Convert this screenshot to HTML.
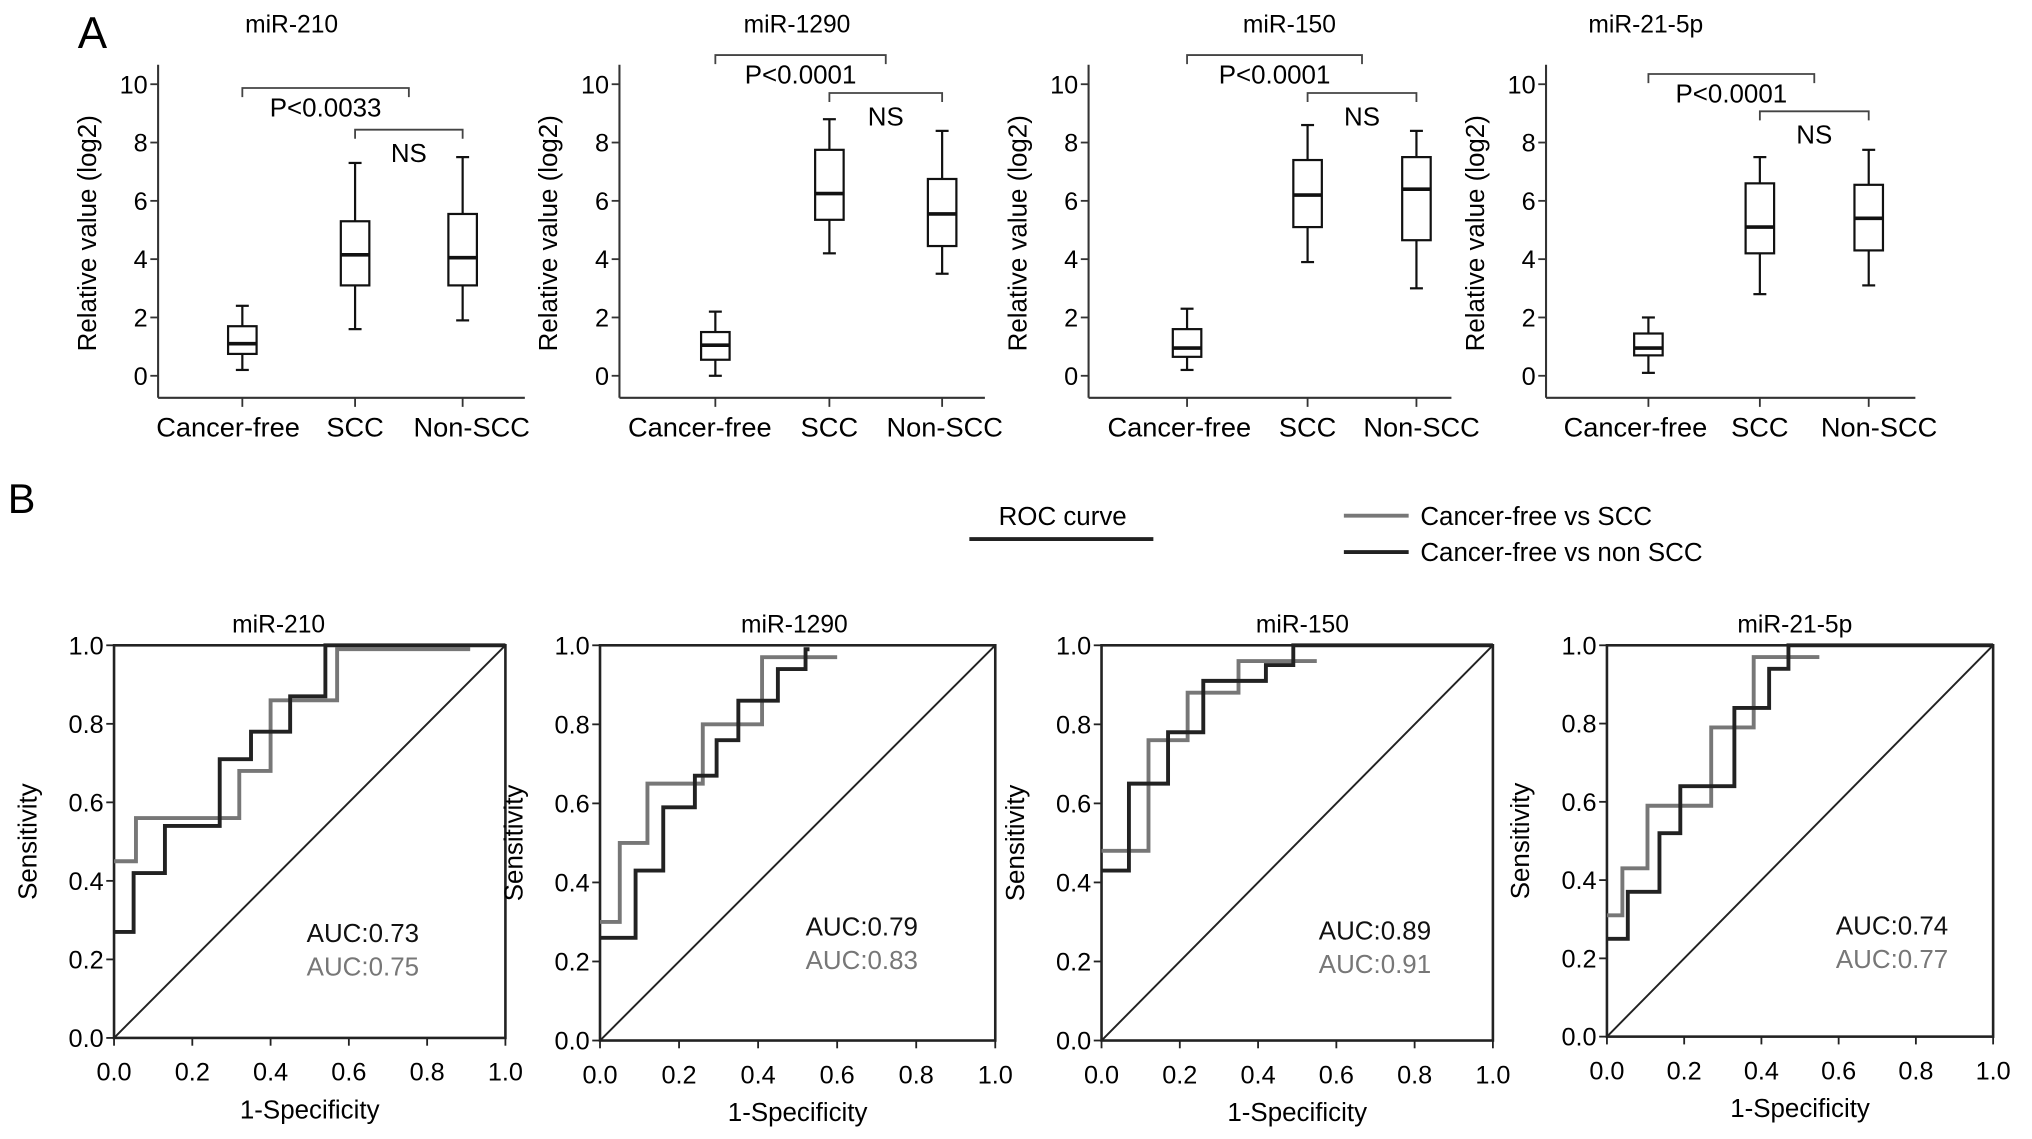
<!DOCTYPE html>
<html><head><meta charset="utf-8"><style>
html,body{margin:0;padding:0;background:#fff;}
svg{display:block;font-family:"Liberation Sans",Arial,sans-serif;}
</style></head><body>
<svg id="fig" width="2032" height="1139" viewBox="0 0 1568 879" preserveAspectRatio="none" xmlns="http://www.w3.org/2000/svg">
<rect width="1568" height="879" fill="#fff"/>
<text x="60" y="37" font-size="34">A</text>
<text x="6" y="396" font-size="32">B</text>
<g>
<text x="820" y="405" font-size="20" text-anchor="middle">ROC curve</text>
<line x1="748" y1="416" x2="890" y2="416" stroke="#222" stroke-width="3"/>
<line x1="1037" y1="398" x2="1087" y2="398" stroke="#777" stroke-width="3"/>
<text x="1096" y="405" font-size="20">Cancer-free vs SCC</text>
<line x1="1037" y1="426" x2="1087" y2="426" stroke="#222" stroke-width="3"/>
<text x="1096" y="433" font-size="20">Cancer-free vs non SCC</text>
</g>
</svg>
<script>
// ---- box plot data ----
const boxTitles = ["miR-210","miR-1290","miR-150","miR-21-5p"];
const boxCategories = ["Cancer-free","SCC","Non-SCC"];
const boxTicks = [0,2,4,6,8,10];
const boxMin = [[0.2,1.6,1.9],[0.0,4.2,3.5],[0.2,3.9,3.0],[0.1,2.8,3.1]];
const boxQ1 = [[0.75,3.1,3.1],[0.55,5.35,4.45],[0.65,5.1,4.65],[0.7,4.2,4.3]];
const boxMedian = [[1.1,4.15,4.05],[1.05,6.25,5.55],[0.95,6.2,6.4],[0.95,5.1,5.4]];
const boxQ3 = [[1.7,5.3,5.55],[1.5,7.75,6.75],[1.6,7.4,7.5],[1.45,6.6,6.55]];
const boxMax = [[2.4,7.3,7.5],[2.2,8.8,8.4],[2.3,8.6,8.4],[2.0,7.5,7.75]];
const pLabels = ["P<0.0033","P<0.0001","P<0.0001","P<0.0001"];
const pBracketLevel = [9.87,11.0,11.0,10.35];
const nsBracketLevel = [8.44,9.7,9.7,9.07];

// ---- ROC data (step curves: x breakpoints, y levels) ----
const rocTitles = ["miR-210","miR-1290","miR-150","miR-21-5p"];
const rocTicks = [0,0.2,0.4,0.6,0.8,1.0];
const nonSccX = [[0,0.05,0.13,0.27,0.35,0.45,0.54,1.0],[0,0.09,0.16,0.24,0.295,0.35,0.45,0.52,0.53],[0,0.07,0.17,0.26,0.42,0.49,1.0],[0,0.054,0.136,0.19,0.33,0.42,0.47,1.0]];
const nonSccY = [[0.27,0.42,0.54,0.71,0.78,0.87,1.0],[0.26,0.43,0.59,0.67,0.76,0.86,0.94,0.99],[0.43,0.65,0.78,0.91,0.95,1.0],[0.25,0.37,0.52,0.64,0.84,0.94,1.0]];
const sccX = [[0,0.056,0.32,0.40,0.57,0.91],[0,0.05,0.12,0.26,0.41,0.60],[0,0.12,0.22,0.35,0.55],[0,0.04,0.105,0.27,0.38,0.55]];
const sccY = [[0.45,0.56,0.68,0.86,0.99],[0.30,0.50,0.65,0.80,0.97],[0.48,0.76,0.88,0.96],[0.31,0.43,0.59,0.79,0.97]];
const aucNonScc = ["AUC:0.73","AUC:0.79","AUC:0.89","AUC:0.74"];
const aucScc = ["AUC:0.75","AUC:0.83","AUC:0.91","AUC:0.77"];

// ---- layout ----
const NS = "http://www.w3.org/2000/svg";
const svg = document.getElementById('fig');
function mk(tag, attrs, parent, txt){
  const e = document.createElementNS(NS, tag);
  for (const k in attrs) e.setAttribute(k, attrs[k]);
  if (txt !== undefined) e.textContent = txt;
  (parent||svg).appendChild(e);
  return e;
}
const boxAxisX = [122,478,840,1193];
const boxCatX = [[187,274,357],[552,640,727],[916,1009,1093],[1272,1358,1442]];
const boxLabelX = [[176,274,364],[540,640,729],[910,1009,1097],[1262,1358,1450]];
const boxAxisEnd = [405,760,1120,1478];
const titleX = [225,615,995,1270];
const y0 = 290, y10 = 65;
function yb(v){ return y0 - (v/10)*(y0-y10); }

for (let p=0;p<4;p++){
  const g = mk('g',{});
  
  
  const ax = boxAxisX[p];
  const t = mk('text',{x:titleX[p],y:25,'font-size':19,'text-anchor':'middle'},g,boxTitles[p]);
  
  
  mk('line',{x1:ax,y1:50,x2:ax,y2:307,stroke:'#333','stroke-width':1.6},g);
  mk('line',{x1:ax,y1:307,x2:boxAxisEnd[p],y2:307,stroke:'#333','stroke-width':1.6},g);
  boxTicks.forEach(v=>{
    mk('line',{x1:ax-6,y1:yb(v),x2:ax,y2:yb(v),stroke:'#333','stroke-width':1.4},g);
    const tl = mk('text',{x:ax-8,y:yb(v)+7,'font-size':19.5,'text-anchor':'end'},g,String(v));
    
    
  });
  const yt = mk('text',{x:0,y:0,'font-size':20,'text-anchor':'middle',transform:`translate(${ax-48},180) rotate(-90)`},g,'Relative value (log2)');
  
  
  for (let c=0;c<3;c++){
    const cx = boxCatX[p][c];
    mk('line',{x1:cx,y1:307,x2:cx,y2:314,stroke:'#333','stroke-width':1.4},g);
    const cl = mk('text',{x:boxLabelX[p][c],y:337,'font-size':21,'text-anchor':'middle'},g,boxCategories[c]);
    
    
    const hw = 11;
    const bg = mk('g',{stroke:'#111','stroke-width':1.7,fill:'none'},g);
    
    
    mk('line',{x1:cx,y1:yb(boxMax[p][c]),x2:cx,y2:yb(boxQ3[p][c])},bg);
    mk('line',{x1:cx,y1:yb(boxQ1[p][c]),x2:cx,y2:yb(boxMin[p][c])},bg);
    mk('line',{x1:cx-5,y1:yb(boxMax[p][c]),x2:cx+5,y2:yb(boxMax[p][c])},bg);
    mk('line',{x1:cx-5,y1:yb(boxMin[p][c]),x2:cx+5,y2:yb(boxMin[p][c])},bg);
    mk('rect',{x:cx-hw,y:yb(boxQ3[p][c]),width:2*hw,height:yb(boxQ1[p][c])-yb(boxQ3[p][c])},bg);
    mk('line',{x1:cx-hw,y1:yb(boxMedian[p][c]),x2:cx+hw,y2:yb(boxMedian[p][c]),'stroke-width':2.8},bg);
  }
  const b1 = boxCatX[p][0], b2 = (boxCatX[p][1]+boxCatX[p][2])/2, yp = yb(pBracketLevel[p]);
  const pb = mk('path',{d:`M${b1} ${yp+7} V${yp} H${b2} V${yp+7}`,stroke:'#444','stroke-width':1.4,fill:'none'},g);
  
  
  const pt = mk('text',{x:(b1+b2)/2,y:yp+22,'font-size':20,'text-anchor':'middle'},g,pLabels[p]);
  
  
  const n1 = boxCatX[p][1], n2 = boxCatX[p][2], yn = yb(nsBracketLevel[p]);
  const nb = mk('path',{d:`M${n1} ${yn+7} V${yn} H${n2} V${yn+7}`,stroke:'#444','stroke-width':1.4,fill:'none'},g);
  
  
  const nt = mk('text',{x:(n1+n2)/2,y:yn+25,'font-size':20,'text-anchor':'middle'},g,'NS');
  
  
}

// ROC panels
const rocL = [88,463,850,1240], rocR=[390,768,1152,1538], rocT=[498,498,498,498], rocB=[801,803,803,800];
const rocTitleX = [215,613,1005,1385];
const aucX = [280,665,1061,1460], aucY=[727,722,725,721];
for (let p=0;p<4;p++){
  const L=rocL[p],R=rocR[p],T=rocT[p],B=rocB[p];
  const sx = v=>L+v*(R-L), sy = v=>B-v*(B-T);
  const g = mk('g',{});
  
  
  const t = mk('text',{x:rocTitleX[p],y:488,'font-size':19,'text-anchor':'middle'},g,rocTitles[p]);
  
  
  mk('rect',{x:L,y:T,width:R-L,height:B-T,fill:'none',stroke:'#222','stroke-width':2},g);
  mk('line',{x1:sx(0),y1:sy(0),x2:sx(1),y2:sy(1),stroke:'#222','stroke-width':1.5},g);
  rocTicks.forEach(v=>{
    mk('line',{x1:L-6,y1:sy(v),x2:L,y2:sy(v),stroke:'#222','stroke-width':1.4},g);
    mk('line',{x1:sx(v),y1:B,x2:sx(v),y2:B+6,stroke:'#222','stroke-width':1.4},g);
    const yl = mk('text',{x:L-8,y:sy(v)+7,'font-size':19.5,'text-anchor':'end'},g,v.toFixed(1));
    
    
    const xl = mk('text',{x:sx(v),y:B+33,'font-size':19.5,'text-anchor':'middle'},g,v.toFixed(1));
    
    
  });
  const xt = mk('text',{x:(L+R)/2,y:B+62,'font-size':20,'text-anchor':'middle'},g,'1-Specificity');
  
  
  const yt = mk('text',{x:0,y:0,'font-size':20,'text-anchor':'middle',transform:`translate(${L-60},${(T+B)/2}) rotate(-90)`},g,'Sensitivity');
  
  
  function step(xs,ys){
    let d=`M${sx(xs[0])} ${sy(ys[0])}`;
    for(let i=0;i<ys.length;i++){
      d+=` V${sy(ys[i])} H${sx(xs[i+1])}`;
    }
    return d;
  }
  const gs = mk('path',{d:step(sccX[p],sccY[p]),fill:'none',stroke:'#777','stroke-width':3},g);
  
  
  const bs = mk('path',{d:step(nonSccX[p],nonSccY[p]),fill:'none',stroke:'#222','stroke-width':3},g);
  
  
  const a1 = mk('text',{x:aucX[p],y:aucY[p],'font-size':20,'text-anchor':'middle',fill:'#111'},g,aucNonScc[p]);
  
  
  const a2 = mk('text',{x:aucX[p],y:aucY[p]+26,'font-size':20,'text-anchor':'middle',fill:'#777'},g,aucScc[p]);
  
  
}
</script>
</body></html>
